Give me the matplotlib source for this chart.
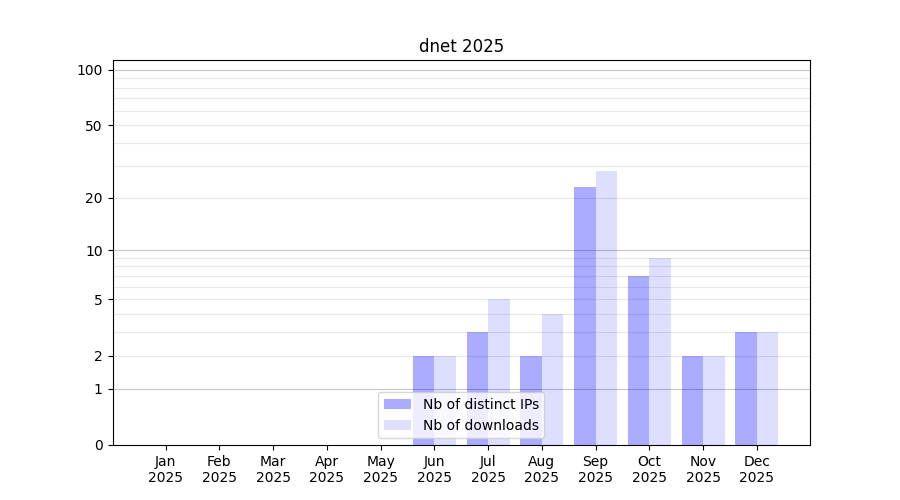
import matplotlib
matplotlib.use('Agg')
import matplotlib.pyplot as plt
import numpy as np

''' Graph data definition '''
title = 'dnet 2025'
months = ['Jan', 'Feb', 'Mar', 'Apr', 'May', 'Jun', 'Jul', 'Aug', 'Sep', 'Oct', 'Nov', 'Dec']
year = '2025'
distinct_ips = [0, 0, 0, 0, 0, 2, 3, 2, 23, 7, 2, 3]
downloads = [0, 0, 0, 0, 0, 2, 5, 4, 28, 9, 2, 3]
y_ticks = [0, 1, 2, 5, 10, 20, 50, 100]


def forward(y):
    return np.log10(1 + np.maximum(y, -0.999))


def inverse(y):
    return 10 ** y - 1


fig, ax = plt.subplots(figsize=(9, 5), dpi=100)
ax.set_yscale('function', functions=(forward, inverse))

x = np.arange(1, len(months) + 1)
width = 0.4
ax.bar(x - width / 2, distinct_ips, width, color='blue', alpha=0.33, label='Nb of distinct IPs')
ax.bar(x + width / 2, downloads, width, color='blue', alpha=0.13, label='Nb of downloads')

''' Grid lines '''
for d in [1, 10]:
    for m in range(2, 10):
        ax.axhline(m * d, color='lightgray', alpha=0.5, lw=0.8, zorder=0)
for d in [1, 10, 100]:
    ax.axhline(d, color='gray', alpha=0.45, lw=0.8, zorder=0)

ax.set_ylim(0, 113)
ax.set_yticks(y_ticks)
ax.set_yticklabels([str(t) for t in y_ticks])
ax.minorticks_off()
ax.set_xticks(x)
ax.set_xticklabels([m + '\n' + year for m in months])
ax.set_title(title)
ax.legend(loc='lower center')

fig.savefig('out.png')
